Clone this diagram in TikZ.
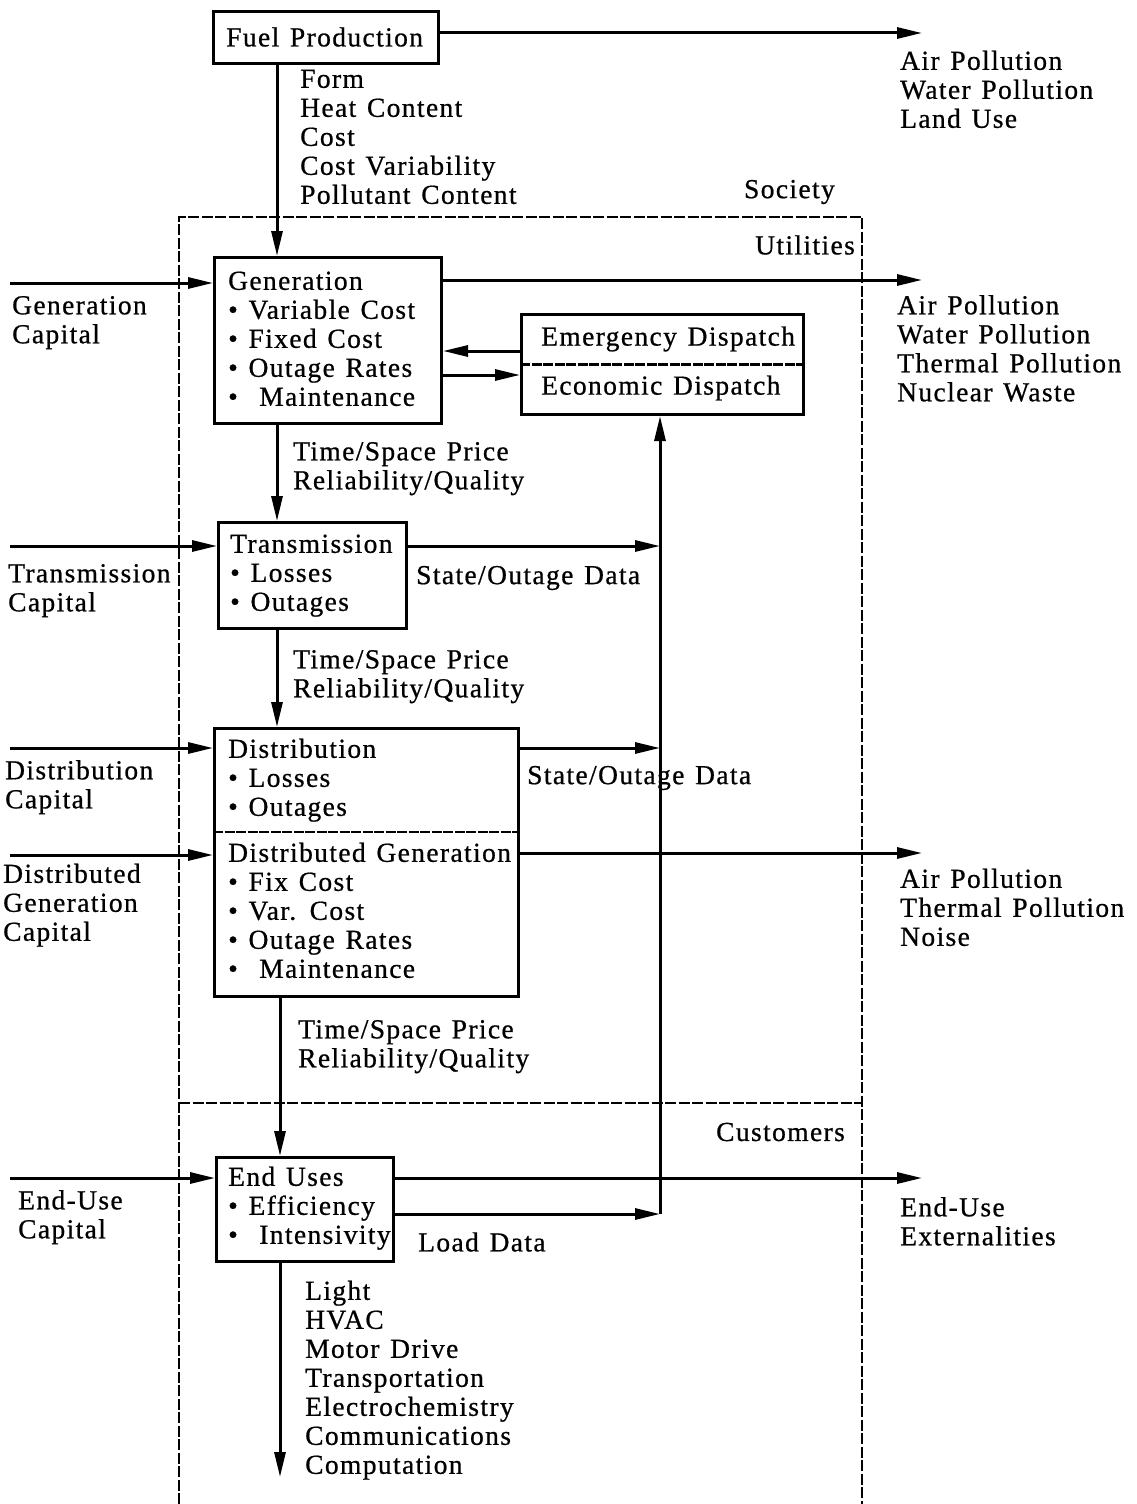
\documentclass[tikz,border=0pt]{standalone}
\usepackage{fontspec}
\setmainfont{Liberation Serif}[LetterSpace=5,WordSpace=1.3,FakeBold=0.7]
\usetikzlibrary{arrows.meta,calc}
\newcommand\fs{\fontsize{27.5}{29}\selectfont}
\tikzset{
  box/.style={draw, line width=3pt, rectangle, inner sep=0pt, anchor=north west},
  arr/.style={line width=3pt, -{Triangle[length=25pt,width=11pt]}},
  txt/.style={font=\fs, align=left, inner sep=0pt, anchor=west},
  rtxt/.style={font=\fs, align=right, inner sep=0pt, anchor=east},
  soc/.style={line width=2.2pt, dash pattern=on 11pt off 2.5pt},
  divider/.style={line width=2.2pt, dash pattern=on 10pt off 1.5pt},
}
\begin{document}
\begin{tikzpicture}[x=1pt,y=-1pt]
\useasboundingbox (0,0) rectangle (1137,1504);

% society frame
\draw[soc] (179,1504) -- (179,217) -- (862,217) -- (862,1504);
\draw[soc] (179,1103) -- (862,1103);
\node[rtxt] (society) at (835,192) {Society};
\node[rtxt] (utilities) at (855,245) {Utilities};
\node[rtxt] (customers) at (845,1132) {Customers};

% trunk x coordinates
\coordinate (tx) at (277,0);
\coordinate (tx2) at (280,0);
\coordinate (bus) at (660,1214);

% boxes
\node[box, minimum width=225, minimum height=52] (fuel) at (212,10) {};
\node[box, minimum width=227, minimum height=166] (gen) at (213,256) {};
\node[box, minimum width=282, minimum height=100] (disp) at (520,313) {};
\node[box, minimum width=188, minimum height=106] (trans) at (217,521) {};
\node[box, minimum width=304, minimum height=268] (dist) at (213,727) {};
\node[box, minimum width=177, minimum height=104] (end) at (215,1156) {};
\draw[divider] (disp.west) -- (disp.east);
\draw[divider] ($(dist.north west)+(0,105)$) -- ($(dist.north east)+(0,105)$);

% box texts
\node[txt] (fuelt) at (226,37) {Fuel Production};
\node[txt] (gent) at (228,342) {\strut Generation\\\strut\textbullet\ Variable Cost\\\strut\textbullet\ Fixed Cost\\\strut\textbullet\ Outage Rates\\\strut\textbullet\ \ Maintenance};
\node[txt] (emt) at (541,339) {Emergency Dispatch};
\node[txt] (ect) at (541,388) {Economic Dispatch};
\node[txt] (transt) at (230,576) {\strut Transmission\\\strut\textbullet\ Losses\\\strut\textbullet\ Outages};
\node[txt] (distt) at (228,781) {\strut Distribution\\\strut\textbullet\ Losses\\\strut\textbullet\ Outages};
\node[txt] (dgt) at (228,914) {\strut Distributed Generation\\\strut\textbullet\ Fix Cost\\\strut\textbullet\ Var. Cost\\\strut\textbullet\ Outage Rates\\\strut\textbullet\ \ Maintenance};
\node[txt] (endt) at (228,1209) {\strut End Uses\\\strut\textbullet\ Efficiency\\\strut\textbullet\ \ Intensivity};

% labels
\node[txt] (fuellab) at (300,140) {\strut Form\\\strut Heat Content\\\strut Cost\\\strut Cost Variability\\\strut Pollutant Content};
\node[txt] (fuelout) at (900,93) {\strut Air Pollution\\\strut Water Pollution\\\strut Land Use};
\node[txt] (genout) at (897,352) {\strut Air Pollution\\\strut Water Pollution\\\strut Thermal Pollution\\\strut Nuclear Waste};
\node[txt] (gencap) at (12,323) {\strut Generation\\\strut Capital};
\node[txt] (ts1) at (293,469) {\strut Time/Space Price\\\strut Reliability/Quality};
\node[txt] (transcap) at (8,591) {\strut Transmission\\\strut Capital};
\node[txt] (so1) at (416,578) {State/Outage Data};
\node[txt] (ts2) at (293,677) {\strut Time/Space Price\\\strut Reliability/Quality};
\node[txt] (distcap) at (5,788) {\strut Distribution\\\strut Capital};
\node[txt] (dgcap) at (3,906) {\strut Distributed\\\strut Generation\\\strut Capital};
\node[txt] (so2) at (527,778) {State/Outage Data};
\node[txt] (dgout) at (900,911) {\strut Air Pollution\\\strut Thermal Pollution\\\strut Noise};
\node[txt] (ts3) at (298,1047) {\strut Time/Space Price\\\strut Reliability/Quality};
\node[txt] (endcap) at (18,1218) {\strut End-Use\\\strut Capital};
\node[txt] (endout) at (900,1225) {\strut End-Use\\\strut Externalities};
\node[txt] (load) at (418,1242) {Load Data};
\node[txt] (uses) at (305,1381) {\strut Light\\\strut HVAC\\\strut Motor Drive\\\strut Transportation\\\strut Electrochemistry\\\strut Communications\\\strut Computation};

% free ends
\coordinate (fuelend) at (922,33);
\coordinate (genend) at (922,280);
\coordinate (dgend) at (922,853);
\coordinate (endend) at (922,1178);
\coordinate (gcapst) at (10,283);
\coordinate (tcapst) at (10,546);
\coordinate (dcapst) at (10,748);
\coordinate (dgcapst) at (10,855);
\coordinate (ecapst) at (10,1178);
\coordinate (usesend) at (280,1477);

% connectors
\draw[arr] (fuel.east |- fuelend) -- (fuelend);
\draw[arr] (fuel.south -| tx) -- (gen.north -| tx);
\draw[arr] (gcapst) -- (gcapst -| gen.west);
\draw[arr] (gen.east |- genend) -- (genend);
\draw[arr] (disp.west |- 0,351) -- (gen.east |- 0,351);
\draw[arr] (gen.east |- 0,375) -- (disp.west |- 0,375);
\draw[arr] (gen.south -| tx) -- (trans.north -| tx);
\draw[arr] (tcapst) -- (tcapst -| trans.west);
\draw[arr] (trans.east |- tcapst) -- (bus |- tcapst);
\draw[arr] (trans.south -| tx) -- (dist.north -| tx);
\draw[arr] (dcapst) -- (dcapst -| dist.west);
\draw[arr] (dgcapst) -- (dgcapst -| dist.west);
\draw[arr] (dist.east |- dcapst) -- (bus |- dcapst);
\draw[arr] (dist.east |- dgend) -- (dgend);
\draw[arr] (dist.south -| tx2) -- (end.north -| tx2);
\draw[arr] (ecapst) -- (ecapst -| end.west);
\draw[arr] (end.east |- endend) -- (endend);
\draw[arr] (end.east |- bus) -- (bus);
\draw[arr] (bus) -- (bus |- disp.south);
\draw[arr] (end.south -| tx2) -- (usesend);
\end{tikzpicture}
\end{document}
